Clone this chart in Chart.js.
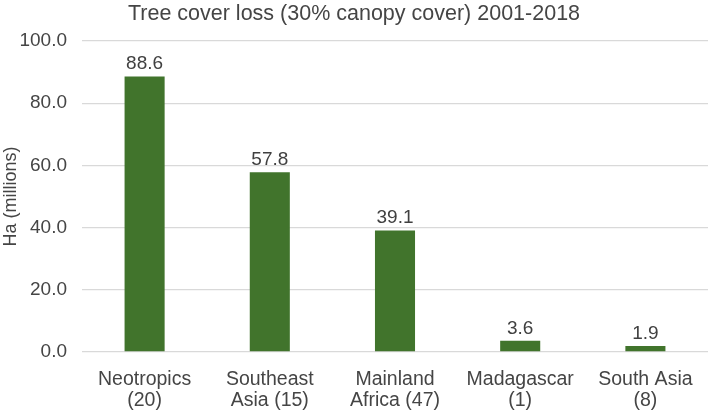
<!DOCTYPE html>
<html>
<head>
<meta charset="utf-8">
<script src="https://cdn.jsdelivr.net/npm/chart.js@4.4.0/dist/chart.umd.min.js"></script>
<style>
  html, body { margin: 0; padding: 0; background: #fff; }
  #wrap { width: 711px; height: 414px; }
</style>
</head>
<body>
<div id="wrap"><canvas id="lossChart" width="711" height="414"></canvas></div>
<script>
// chart data
const regions = [['Neotropics', '(20)'], ['Southeast', 'Asia (15)'], ['Mainland', 'Africa (47)'], ['Madagascar', '(1)'], ['South Asia', '(8)']];
const lossValues = [88.6, 57.8, 39.1, 3.6, 1.9];
const yTicks = [0, 20, 40, 60, 80, 100];

const textColor = '#454545';
const fontFamily = '"Liberation Sans", Arial, sans-serif';

// draws the value above each bar
const valueLabels = {
  id: 'valueLabels',
  afterDatasetsDraw(chart) {
    const ctx = chart.ctx;
    const meta = chart.getDatasetMeta(0);
    ctx.save();
    ctx.font = '19px ' + fontFamily;
    ctx.fillStyle = '#404040';
    ctx.textAlign = 'center';
    ctx.textBaseline = 'bottom';
    meta.data.forEach((bar, i) => {
      ctx.fillText(lossValues[i].toFixed(1), bar.x, bar.y - 3);
    });
    ctx.restore();
  }
};

const ctx = document.getElementById('lossChart').getContext('2d');
new Chart(ctx, {
  type: 'bar',
  data: {
    labels: regions,
    datasets: [{
      label: 'Tree cover loss',
      data: lossValues,
      backgroundColor: '#41742c',
      categoryPercentage: 1,
      barPercentage: 0.32
    }]
  },
  options: {
    responsive: false,
    animation: false,
    layout: { padding: { left: 0, right: 3, top: 0, bottom: 0 } },
    plugins: {
      legend: { display: false },
      tooltip: { enabled: false },
      title: {
        display: true,
        text: 'Tree cover loss (30% canopy cover) 2001-2018',
        color: textColor,
        font: { family: fontFamily, size: 21.5, weight: 'normal', lineHeight: 1.2 },
        padding: { top: 1.5, bottom: 13.7 }
      }
    },
    scales: {
      x: {
        grid: { display: false },
        border: { display: false },
        ticks: {
          color: textColor,
          font: { family: fontFamily, size: 19.5, lineHeight: 1.08 },
          maxRotation: 0,
          padding: 9
        },
        afterFit(scale) { scale.height = 62; }
      },
      y: {
        min: 0,
        max: 100,
        afterBuildTicks(scale) { scale.ticks = yTicks.map(v => ({ value: v })); },
        grid: { color: '#d9d9d9', drawTicks: false, lineWidth: 1.3 },
        border: { display: false },
        ticks: {
          color: textColor,
          font: { family: fontFamily, size: 19 },
          padding: 15,
          callback: v => v.toFixed(1)
        },
        title: {
          display: true,
          text: 'Ha (millions)',
          color: textColor,
          font: { family: fontFamily, size: 18 },
          padding: 0
        },
        afterFit(scale) { scale.width = 82; }
      }
    }
  },
  plugins: [valueLabels]
});
</script>
</body>
</html>
